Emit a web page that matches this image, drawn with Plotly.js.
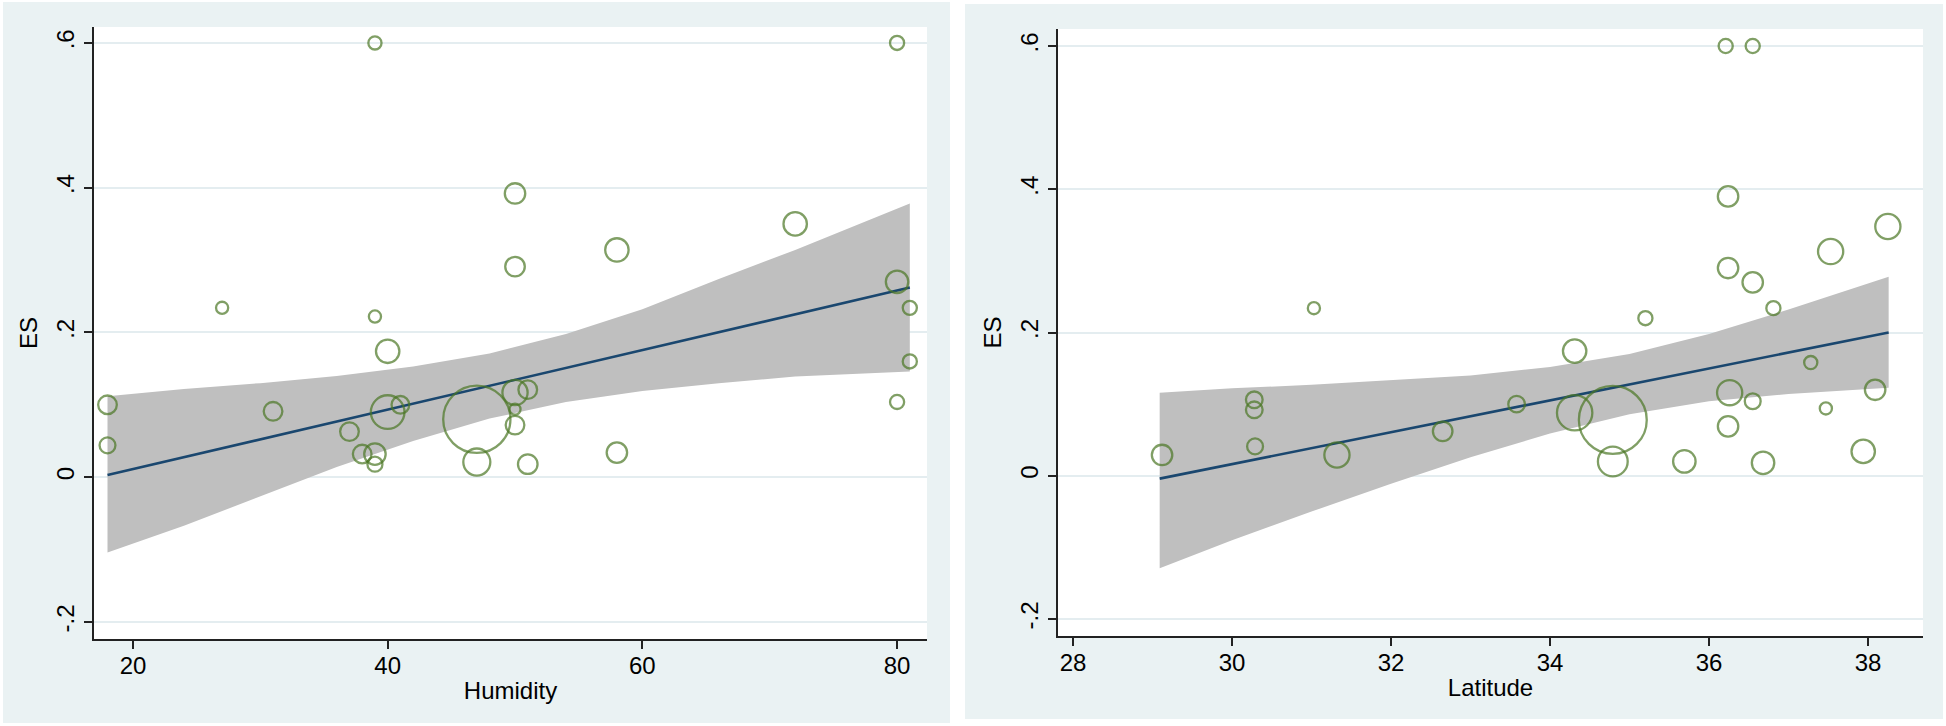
<!DOCTYPE html>
<html><head><meta charset="utf-8">
<script src="https://cdn.plot.ly/plotly-3.0.1.min.js"></script>
<style>html,body{margin:0;padding:0;background:#fff;}#chart{width:1946px;height:726px;}</style>
</head><body><div id="chart"></div>
<script>
// ---- Left panel: ES vs Humidity ----
const humidity = [39, 80, 27, 39, 40, 50, 50, 58, 72, 80, 81, 81, 18, 18, 31, 37, 40, 41, 38, 39, 39, 47, 47, 50, 51, 50, 50, 51, 58, 80];
const esHumidity = [0.600, 0.600, 0.234, 0.222, 0.174, 0.392, 0.291, 0.314, 0.350, 0.270, 0.234, 0.160, 0.100, 0.044, 0.091, 0.063, 0.090, 0.100, 0.032, 0.032, 0.018, 0.080, 0.021, 0.117, 0.121, 0.072, 0.094, 0.018, 0.034, 0.104];
const weightHumidity = [2.0, 2.3, 1.7, 1.7, 6.3, 4.8, 4.4, 6.3, 6.3, 5.8, 2.3, 2.3, 4.0, 2.9, 4.0, 4.0, 13.0, 3.6, 4.0, 5.3, 2.6, 52, 8.4, 7.3, 4.0, 4.0, 1.4, 4.4, 4.8, 2.3];
const humidityFitX = [18, 81];
const humidityFitY = [0.003, 0.262];
const humidityBandX = [18, 24, 30, 36, 42, 48, 54, 60, 66, 72, 81];
const humidityBandUpper = [0.112, 0.122, 0.130, 0.140, 0.153, 0.171, 0.198, 0.232, 0.274, 0.314, 0.378];
const humidityBandLower = [-0.104, -0.067, -0.026, 0.014, 0.050, 0.081, 0.104, 0.119, 0.130, 0.139, 0.146];
const humidityTicks = [20, 40, 60, 80];

// ---- Right panel: ES vs Latitude ----
const latitude = [36.21, 36.55, 36.24, 38.25, 37.53, 36.24, 36.55, 36.81, 35.20, 34.31, 37.28, 31.03, 29.12, 30.28, 30.28, 30.29, 31.32, 32.65, 33.58, 34.31, 34.79, 34.79, 35.69, 36.26, 36.55, 36.24, 36.68, 37.47, 38.09, 37.94];
const esLatitude = [0.600, 0.600, 0.390, 0.348, 0.313, 0.290, 0.270, 0.234, 0.220, 0.174, 0.158, 0.234, 0.029, 0.106, 0.092, 0.041, 0.029, 0.062, 0.100, 0.088, 0.078, 0.020, 0.020, 0.116, 0.104, 0.069, 0.018, 0.094, 0.120, 0.034];
const weightLatitude = [2.3, 2.3, 4.8, 7.3, 7.3, 4.8, 4.8, 2.3, 2.3, 6.3, 2.0, 1.7, 4.8, 3.2, 3.2, 2.9, 7.3, 4.4, 3.2, 14.4, 53, 10.2, 5.8, 7.3, 2.9, 4.8, 5.8, 1.7, 4.8, 6.3];
const latitudeFitX = [29.09, 38.26];
const latitudeFitY = [-0.004, 0.200];
const latitudeBandX = [29.09, 30, 31, 32, 33, 34, 35, 36, 37, 38.26];
const latitudeBandUpper = [0.116, 0.122, 0.127, 0.133, 0.140, 0.152, 0.170, 0.198, 0.232, 0.278];
const latitudeBandLower = [-0.129, -0.090, -0.050, -0.011, 0.026, 0.059, 0.086, 0.104, 0.114, 0.123];
const latitudeTicks = [28, 30, 32, 34, 36, 38];

// ---- shared y ticks ----
const esTickVals = [-0.2, 0, 0.2, 0.4, 0.6];
const esTickText = ['-.2', '0', '.2', '.4', '.6'];

const GREEN = '#4A7624';
const NAVY = '#1A476F';
const BAND = '#BFBFBF';
const REGION = '#EAF2F3';
const FONT = {family: 'Liberation Sans, Arial, sans-serif', size: 24, color: '#000'};

function bandTrace(xs, up, lo, xa, ya) {
  return {
    x: xs.concat(xs.slice().reverse()),
    y: up.concat(lo.slice().reverse()),
    xaxis: xa, yaxis: ya, type: 'scatter', mode: 'lines',
    fill: 'toself', fillcolor: BAND, line: {width: 0, color: BAND},
    hoverinfo: 'skip', showlegend: false
  };
}
function fitTrace(xs, ys, xa, ya) {
  return {x: xs, y: ys, xaxis: xa, yaxis: ya, type: 'scatter', mode: 'lines',
    line: {color: NAVY, width: 2.6}, showlegend: false};
}
function pointTrace(xs, ys, ws, xa, ya) {
  return {x: xs, y: ys, xaxis: xa, yaxis: ya, type: 'scatter', mode: 'markers',
    marker: {symbol: 'circle-open', size: ws, sizemode: 'area', sizeref: 0.023,
      color: GREEN, line: {color: GREEN, width: 2.3}},
    showlegend: false};
}

const data = [
  bandTrace(humidityBandX, humidityBandUpper, humidityBandLower, 'x', 'y'),
  fitTrace(humidityFitX, humidityFitY, 'x', 'y'),
  pointTrace(humidity, esHumidity, weightHumidity, 'x', 'y'),
  bandTrace(latitudeBandX, latitudeBandUpper, latitudeBandLower, 'x2', 'y2'),
  fitTrace(latitudeFitX, latitudeFitY, 'x2', 'y2'),
  pointTrace(latitude, esLatitude, weightLatitude, 'x2', 'y2')
];

const W = 1946, H = 726;
const xCommon = {showgrid: false, zeroline: false, showline: true, linecolor: '#222', linewidth: 2,
  ticks: 'outside', ticklen: 8, tickwidth: 2, tickcolor: '#222', tickfont: FONT,
  ticklabelstandoff: -4, automargin: false};
const yCommon = {showgrid: true, gridcolor: '#E4EDF0', gridwidth: 2, zeroline: false, showline: true,
  linecolor: '#222', linewidth: 2, ticks: 'outside', ticklen: 8, tickwidth: 2, tickcolor: '#222',
  tickfont: FONT, tickangle: -90, tickvals: esTickVals, ticktext: esTickText, automargin: false};

const layout = {
  width: W, height: H,
  margin: {l: 0, r: 0, t: 0, b: 0},
  paper_bgcolor: '#FFFFFF', plot_bgcolor: '#FFFFFF',
  showlegend: false,
  font: FONT,
  xaxis: Object.assign({}, xCommon, {domain: [94 / W, 927 / W], range: [16.94, 82.35],
    tickvals: humidityTicks, anchor: 'y', title: {text: 'Humidity', font: FONT, standoff: 4}}),
  yaxis: Object.assign({}, yCommon, {domain: [(H - 639) / H, (H - 27) / H], range: [-0.2235, 0.622],
    anchor: 'x', title: {text: 'ES', font: FONT, standoff: 8}}),
  xaxis2: Object.assign({}, xCommon, {domain: [1058 / W, 1923 / W], range: [27.811, 38.692],
    tickvals: latitudeTicks, anchor: 'y2', title: {text: 'Latitude', font: FONT, standoff: 4}}),
  yaxis2: Object.assign({}, yCommon, {domain: [(H - 636) / H, (H - 29) / H], range: [-0.2237, 0.6237],
    anchor: 'x2', title: {text: 'ES', font: FONT, standoff: 8}}),
  shapes: [
    {type: 'rect', xref: 'paper', yref: 'paper', layer: 'below',
      x0: 3 / W, x1: 950 / W, y0: 1 - 723 / H, y1: 1 - 2 / H,
      fillcolor: REGION, line: {width: 0}},
    {type: 'rect', xref: 'paper', yref: 'paper', layer: 'below',
      x0: 965 / W, x1: 1943 / W, y0: 1 - 719 / H, y1: 1 - 4 / H,
      fillcolor: REGION, line: {width: 0}},
    {type: 'rect', xref: 'x domain', yref: 'y domain', layer: 'below',
      x0: 0, x1: 1, y0: 0, y1: 1, fillcolor: '#FFFFFF', line: {width: 0}},
    {type: 'rect', xref: 'x2 domain', yref: 'y2 domain', layer: 'below',
      x0: 0, x1: 1, y0: 0, y1: 1, fillcolor: '#FFFFFF', line: {width: 0}}
  ]
};

Plotly.newPlot('chart', data, layout, {displayModeBar: false, staticPlot: true});
</script>
</body></html>
